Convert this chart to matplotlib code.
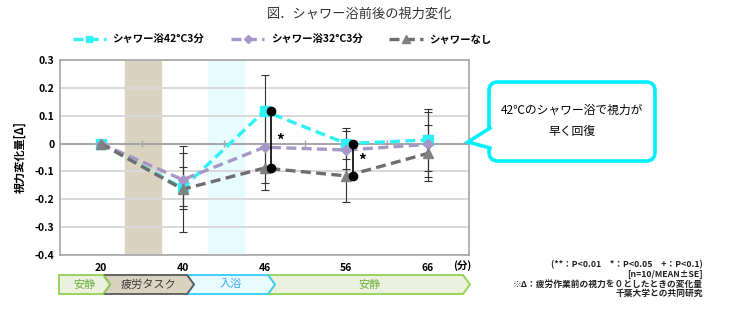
import numpy as np
import matplotlib
matplotlib.use("Agg")
import matplotlib.pyplot as plt
from matplotlib.patches import Polygon, FancyBboxPatch

plt.rcParams['font.family'] = ['Noto Sans CJK JP', 'DejaVu Sans']

# 測定時間(分)
times = ['20', '40', '46', '56', '66']
labels = ['シャワー浴42°C3分', 'シャワー浴32°C3分', 'シャワーなし']

# 平均値と標準誤差
hot_mean = [0.0, -0.160, 0.117, 0.000, 0.013]
hot_se = [0.0, 0.075, 0.130, 0.057, 0.112]
warm_mean = [0.0, -0.130, -0.013, -0.023, -0.003]
warm_se = [0.0, 0.095, 0.130, 0.068, 0.116]
none_mean = [0.0, -0.164, -0.088, -0.116, -0.035]
none_se = [0.0, 0.155, 0.080, 0.092, 0.100]

colors = ['#2ff0f5', '#a597c6', '#6e6e6e']
marker_colors = ['#2ff0f5', '#a597c6', '#808080']
markers = ['s', 'D', '^']

# 有意差(42°C vs なし)
sig_idx = [2, 3]
sig_marks = ['*', '*']

# 工程
phases = ['安静', '疲労タスク', '入浴', '安静']
phase_px = [59, 103, 187, 268, 463]
phase_face = ['#ebf1de', '#d9d3c0', '#e8fbff', '#ebf1de']
phase_edge = ['#92d050', '#595959', '#33ccff', '#92d050']
phase_text = ['#70b040', '#3a3a3a', '#33aaee', '#70b040']

fig = plt.figure(figsize=(7.3, 3.28), dpi=100)
ax = fig.add_axes([60 / 730, 1 - 255 / 328, 409 / 730, 195 / 328])

x = np.arange(len(times))

# 背景の帯(疲労タスク・入浴)
ax.axvspan(0.30, 0.74, color='#d9d3c0', zorder=0)
ax.axvspan(1.31, 1.75, color='#e6fcfe', zorder=0)

for yv in np.arange(-0.4, 0.31, 0.1):
    ax.axhline(yv, color='#d9d9d9', lw=1.4, zorder=0.5)
ax.axhline(0, color='#a6a6a6', lw=1.4, zorder=0.6)
ax.vlines(x[:-1] + 0.5, -0.012, 0.012, color='#a6a6a6', lw=1, zorder=0.6)

series = [(hot_mean, hot_se), (warm_mean, warm_se), (none_mean, none_se)]
for (m, s) in series:
    ax.errorbar(x, m, yerr=s, fmt='none', ecolor='#333333', elinewidth=0.8,
                capsize=3, capthick=0.8, zorder=2)
for (m, s), c, mc, mk, lab in zip(series, colors, marker_colors, markers, labels):
    ax.plot(x, m, color=c, lw=2.4, ls=(0, (3, 1.6)), marker=mk,
            ms=7.5 if mk == '^' else (5.5 if mk == 'D' else 7),
            mfc=mc, mec=mc, label=lab, zorder=3)

# 有意差のブラケット
for i, mark in zip(sig_idx, sig_marks):
    xb = x[i] + 0.08
    ax.plot([xb, xb], [hot_mean[i], none_mean[i]], color='black', lw=1.2,
            marker='o', ms=6, zorder=4)
    ax.text(xb + 0.06, (hot_mean[i] + none_mean[i]) / 2 - 0.005, mark,
            fontsize=11, fontweight='bold', ha='left', va='center', zorder=5)

ax.set_xlim(-0.5, 4.5)
ax.set_ylim(-0.4, 0.3)
ax.set_yticks(np.round(np.arange(-0.4, 0.31, 0.1), 1))
ax.set_yticklabels(['-0.4', '-0.3', '-0.2', '-0.1', '0', '0.1', '0.2', '0.3'],
                   fontsize=7.5, fontweight='bold')
ax.set_xticks(x)
ax.set_xticklabels(times, fontsize=7.5, fontweight='bold')
ax.tick_params(axis='both', length=0, pad=4)
ax.tick_params(axis='x', pad=6)
for sp in ax.spines.values():
    sp.set_color('#a6a6a6')
    sp.set_linewidth(1.2)
ax.set_ylabel('視力変化量[Δ]', fontsize=8, fontweight='bold', labelpad=6)

fig.text(360 / 730, 1 - 14 / 328, '図．シャワー浴前後の視力変化', fontsize=9.5,
         ha='center', va='center', color='#333333')
fig.legend(loc='center', bbox_to_anchor=(282 / 730, 1 - 40 / 328), ncol=3,
           frameon=False, handlelength=3.2, columnspacing=2.6, markerscale=0.7,
           handletextpad=0.6, prop={'weight': 'bold', 'size': 7.5})

# ピクセル座標のオーバーレイ
ov = fig.add_axes([0, 0, 1, 1])
ov.set_xlim(0, 730)
ov.set_ylim(328, 0)
ov.axis('off')
ov.patch.set_alpha(0)

ov.text(462, 266, '(分)', fontsize=7.5, fontweight='bold', ha='center', va='center')

top, bot, mid, d = 275, 294, 284.5, 7
for k, name in enumerate(phases):
    x0, x1 = phase_px[k], phase_px[k + 1]
    pts = [(x0, top), (x1, top), (x1 + d, mid), (x1, bot), (x0, bot)]
    if k > 0:
        pts.append((x0 + d, mid))
    ov.add_patch(Polygon(pts, closed=True, fc=phase_face[k], ec=phase_edge[k], lw=1.3,
                         zorder=2 + (len(phases) - k) * 0.1))
    ov.text((x0 + x1) / 2 + d / 2, mid, name, fontsize=8, color=phase_text[k],
            ha='center', va='center', zorder=3)

# 吹き出し
ov.add_patch(FancyBboxPatch((489, 82), 166, 79, boxstyle='round,pad=0,rounding_size=9',
                            fc='white', ec='#00f0ff', lw=2.6, zorder=2))
ov.add_patch(Polygon([(491, 128), (468, 142), (491, 148)], closed=True, fc='white',
                     ec='none', zorder=3))
ov.plot([490, 468, 490], [128, 142, 148], color='#00f0ff', lw=2.6, zorder=4,
        solid_joinstyle='miter')
ov.text(572, 110, '42℃のシャワー浴で視力が', fontsize=8.5, ha='center', va='center', zorder=5)
ov.text(572, 132, '早く回復', fontsize=8.5, ha='center', va='center', zorder=5)

notes = ['(**：P<0.01　*：P<0.05　+：P<0.1)', '[n=10/MEAN±SE]',
         '※Δ：疲労作業前の視力を０としたときの変化量', '千葉大学との共同研究']
for i, t in enumerate(notes):
    ov.text(703, 265 + i * 9.5, t, fontsize=6.3, fontweight='bold', ha='right',
            va='center', color='#222222')

fig.savefig('out.png', dpi=100)
